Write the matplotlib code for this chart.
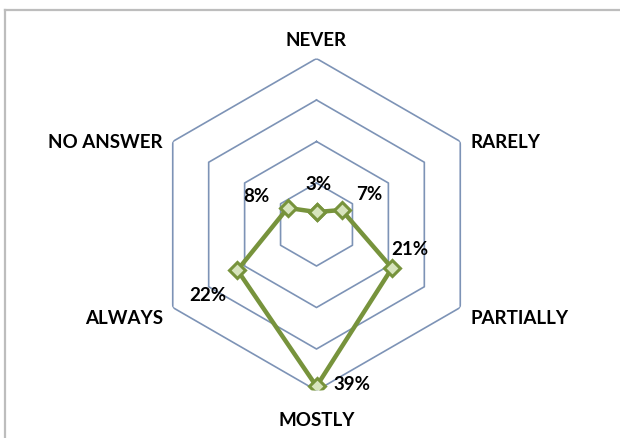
import matplotlib

matplotlib.use("Agg")

import matplotlib.pyplot as plt
import numpy as np
from matplotlib.lines import Line2D

# Survey answers, clockwise from the top
CATEGORIES = ["NEVER", "RARELY", "PARTIALLY", "MOSTLY", "ALWAYS", "NO ANSWER"]
SHARES = [3, 7, 21, 39, 22, 8]
RINGS = [10, 20, 30, 40]

GRID_COLOR = "#7D93B6"
SERIES_COLOR = "#77933C"
MARKER_FILL = "#D7E4BD"
FONT = ["Lato", "DejaVu Sans"]

# label offsets in pixels from the point they belong to
CAT_OFFSETS = [(0, 19, "center"), (10, 0, "left"), (10, -10.5, "left"),
               (0, -29, "center"), (-10, -10.5, "right"), (-10, 0, "right")]
VAL_OFFSETS = [(2, 29), (28, 16), (18, 20), (35, 3), (-30, -24), (-31, 12)]

W, H = 620, 439
fig = plt.figure(figsize=(W / 100, H / 100), dpi=100)
fig.patch.set_facecolor("white")

# chart area border (runs off the right and bottom edges)
fig.add_artist(Line2D([5 / W, 5 / W], [0, 1 - 11 / H], color="#BDBDBD", lw=1.6,
                      transform=fig.transFigure))
fig.add_artist(Line2D([5 / W, 1], [1 - 11 / H, 1 - 11 / H], color="#BDBDBD", lw=1.6,
                      transform=fig.transFigure))

cx, cy, rad = 316.5, 225.5, 166
ax = fig.add_axes([(cx - rad) / W, (H - cy - rad) / H, 2 * rad / W, 2 * rad / H],
                  projection="polar")
ax.set_theta_offset(np.pi / 2)
ax.set_theta_direction(-1)
ax.set_ylim(0, 40)
ax.grid(False)
ax.set_xticks([])
ax.set_yticks([])
ax.spines["polar"].set_visible(False)
ax.patch.set_visible(False)

angles = np.linspace(0, 2 * np.pi, len(CATEGORIES), endpoint=False)
closed = np.append(angles, angles[0])

for r in RINGS:
    ax.plot(closed, [r] * len(closed), color=GRID_COLOR, lw=1.2, zorder=1)

vals = np.append(SHARES, SHARES[0])
ax.plot(closed, vals, color=SERIES_COLOR, lw=3.2, zorder=3,
        marker="D", markersize=8, markerfacecolor=MARKER_FILL,
        markeredgecolor=SERIES_COLOR, markeredgewidth=2.2, solid_joinstyle="miter")

for ang, name, (dx, dy, ha) in zip(angles, CATEGORIES, CAT_OFFSETS):
    ax.annotate(name, (ang, RINGS[-1]), xytext=(dx, dy), textcoords="offset pixels",
                ha=ha, va="center", fontsize=13.5, fontweight="bold",
                family=FONT, color="#000000", annotation_clip=False)

for ang, v, (dx, dy) in zip(angles, SHARES, VAL_OFFSETS):
    ax.annotate(f"{v}%", (ang, v), xytext=(dx, dy), textcoords="offset pixels",
                ha="center", va="center", fontsize=13.5, fontweight="bold",
                family=FONT, color="#000000", zorder=5)

fig.savefig("out.png", dpi=100, facecolor="white")
